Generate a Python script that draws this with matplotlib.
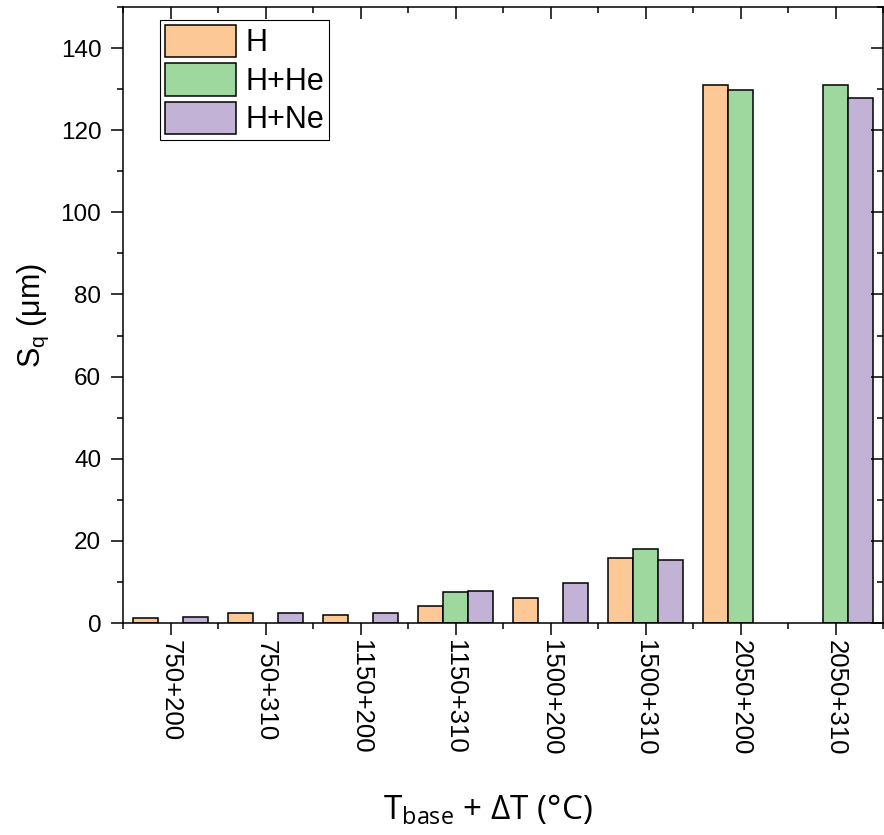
import numpy as np
import matplotlib
matplotlib.use("Agg")
import matplotlib.pyplot as plt
from matplotlib.ticker import MultipleLocator, FixedLocator

plt.rcParams['mathtext.fontset'] = 'custom'
plt.rcParams['mathtext.rm'] = 'Open Sans'
plt.rcParams['mathtext.sf'] = 'Liberation Sans'

# data
categories = ["750+200", "750+310", "1150+200", "1150+310",
              "1500+200", "1500+310", "2050+200", "2050+310"]
sq_h = [1.2, 2.5, 2.0, 4.2, 6.2, 15.8, 130.9, np.nan]
sq_h_he = [np.nan, np.nan, np.nan, 7.6, np.nan, 18.0, 129.9, 130.9]
sq_h_ne = [1.5, 2.5, 2.45, 7.8, 9.85, 15.3, np.nan, 127.8]

series = [("H", sq_h, "#fcc896"),
          ("H+He", sq_h_he, "#9fd89f"),
          ("H+Ne", sq_h_ne, "#c2b2d6")]

fig = plt.figure(figsize=(8.84, 8.35), dpi=100)
ax = fig.add_axes([123 / 884, 1 - 623 / 835, 760 / 884, 616 / 835])

x = np.arange(len(categories))
w = 0.265
for i, (name, vals, col) in enumerate(series):
    ax.bar(x + (i - 1) * w, vals, w, color=col, edgecolor="black",
           linewidth=1.1, label=name)

ax.set_xlim(-0.5, 7.5)
ax.set_ylim(0, 150)
ax.set_xticks(x)
ax.set_xticklabels(categories, rotation=-90, fontsize=18.5,
                   family="Liberation Sans")
ax.xaxis.set_minor_locator(FixedLocator(np.arange(-0.5, 8, 1)))
ax.yaxis.set_major_locator(MultipleLocator(20))
ax.yaxis.set_minor_locator(MultipleLocator(10))
for lab in ax.get_yticklabels():
    lab.set_family("Liberation Sans")
    lab.set_fontsize(17.5)

for s in ax.spines.values():
    s.set_linewidth(1.1)

ax.tick_params(which="major", length=8.6, width=1.1, pad=7)
ax.tick_params(which="minor", length=4.3, width=1.1)
ax.tick_params(axis="x", which="major", pad=4)
ax.tick_params(axis="both", which="both", direction="out")
ax.tick_params(which="both", top=True, right=True)
# top and right ticks point inward
for t in ax.xaxis.get_major_ticks() + ax.xaxis.get_minor_ticks():
    t.tick2line.set_marker(3)
for t in ax.yaxis.get_major_ticks() + ax.yaxis.get_minor_ticks():
    t.tick2line.set_marker(0)

ax.set_ylabel(r"S$_{\mathsf{q}}$ (μm)", family="Liberation Sans",
              fontsize=22, labelpad=7)
ax.set_xlabel(r"T$_{\mathrm{base}}$ + ΔT (°C)", family="Open Sans",
              fontsize=24, labelpad=26)
ax.xaxis.label.set_x(0.48)

leg = ax.legend(loc="upper left", bbox_to_anchor=(37 / 760, 1 - 13 / 616),
                prop={"family": "Liberation Sans", "size": 22},
                fancybox=False, framealpha=1, edgecolor="black",
                handlelength=2.35, handleheight=1.25, labelspacing=0.17,
                borderpad=0.15, handletextpad=0.3, borderaxespad=0)
leg.get_frame().set_linewidth(0.8)

fig.savefig("out.png", dpi=100)
